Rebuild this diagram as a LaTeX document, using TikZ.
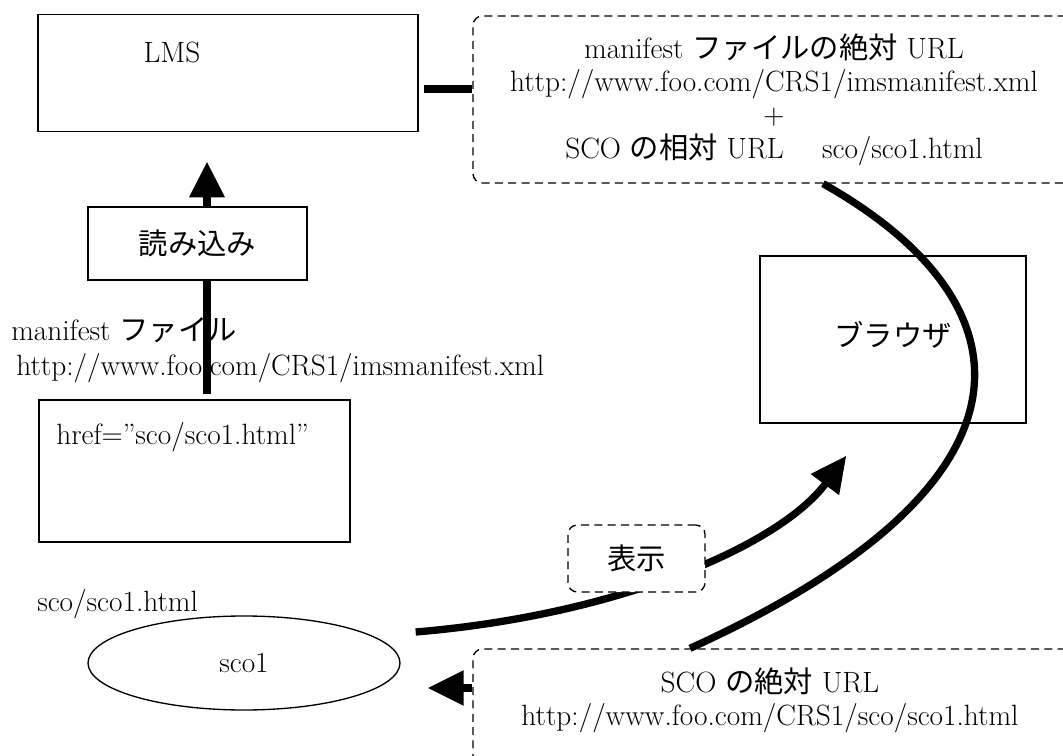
\documentclass[tikz,border=0pt]{standalone}
\usepackage{fontspec}
\newfontfamily\jp{Noto Sans CJK JP}
\usepackage{tikz}
\usetikzlibrary{arrows.meta,calc,shapes.geometric}

\tikzset{
  box/.style={draw, line width=1pt, inner sep=0pt},
  memo/.style={draw, dashed, dash pattern=on 6pt off 4pt, line width=1pt, rounded corners=7pt, inner sep=0pt},
  flow/.style={line width=5.5pt},
  bigtip/.style={-{Triangle[length=27pt,width=25pt]}},
}

\begin{document}
\begin{tikzpicture}[x=0.75pt,y=0.75pt,yscale=-1,xscale=1,font=\fontsize{22}{25}\selectfont]
\useasboundingbox (0,0) rectangle (1063,756);
\clip (0,0) rectangle (1063,756);

%Shape: Rectangle [id:lms]
\node[box, minimum width=285pt, minimum height=88pt] (lms) at (228,73) {};
% Text Node
\node[inner sep=0.75pt] (lmstxt) at (172,52) {LMS};

%Shape: Rounded Rect [id:relurl]
\node[memo, minimum width=451.5pt, minimum height=125.25pt, align=center] (relurl) at (774,99.5)
  {manifest {\jp ファイルの絶対} URL\\ http://www.foo.com/CRS1/imsmanifest.xml\\ +\\ SCO {\jp の相対} URL\hspace{1em} sco/sco1.html};

%Straight Lines [id:gap]
\coordinate (gap) at (424,89);
\draw[flow] (gap) -- (gap -| relurl.west);

%Shape: Rectangle [id:href]
\node[box, minimum width=233.25pt, minimum height=106.5pt] (href) at (194.5,471) {};
% Text Node
\node[anchor=west, inner sep=0.75pt] (hreftxt) at (55,437) {href=”sco/sco1.html”};

%Straight Lines [id:load]
\draw[flow, line width=6.5pt, bigtip] ($(href.north)+(12.5,-5)$) -- ($(lms.south)+(-21,29)$);

%Shape: Rectangle [id:yomi]
\node[box, fill=white, minimum width=164.25pt, minimum height=54.75pt] (yomi) at (197.5,243.5) {\jp 読み込み};

% Text Node
\node[anchor=west, inner sep=0.75pt] (mfname) at (10,330) {manifest {\jp ファイル}};
% Text Node
\node[anchor=west, inner sep=0.75pt] (mfurl) at (15,368) {http://www.foo.com/CRS1/imsmanifest.xml};

%Shape: Rectangle [id:brw]
\node[box, minimum width=199.5pt, minimum height=125.25pt] (brw) at (893,339.5) {};
% Text Node
\node[inner sep=0.75pt] (brwtxt) at (893,335) {\jp ブラウザ};

%Shape: Rounded Rect [id:absurl]
\node[memo, minimum width=451.5pt, minimum height=105.75pt] (absurl) at (774,719.5) {};
% Text Node
\node[align=center, inner sep=0.75pt] (abstxt) at (770,700)
  {SCO {\jp の絶対} URL\\ http://www.foo.com/CRS1/sco/sco1.html};

%Shape: Ellipse [id:sco1]
\node[ellipse, draw, line width=1pt, minimum width=234pt, minimum height=70.5pt] (sco1) at (244,663) {sco1};
% Text Node
\node[anchor=west, inner sep=0.75pt] (scopath) at (36,604) {sco/sco1.html};

%Curve Lines [id:resolve]
\draw[flow] ($(relurl.south)+(49,0)$) .. controls (1030,300) and (1060,480) .. ($(absurl.north)+(-84,0)$);

%Curve Lines [id:show]
\draw[flow, bigtip] ($(sco1.east)+(15,-31)$) .. controls (620,615) and (780,545) .. ($(brw.south west)+(87,32)$);

%Shape: Rounded Rect [id:disp]
\node[memo, fill=white, minimum width=102.75pt, minimum height=50.25pt] (disp) at (636.5,558.5) {\jp 表示};

%Straight Lines [id:back]
\draw[flow, bigtip] (absurl.west |- 0,688) -- ($(sco1.east)+(27,25)$);

\end{tikzpicture}
\end{document}
